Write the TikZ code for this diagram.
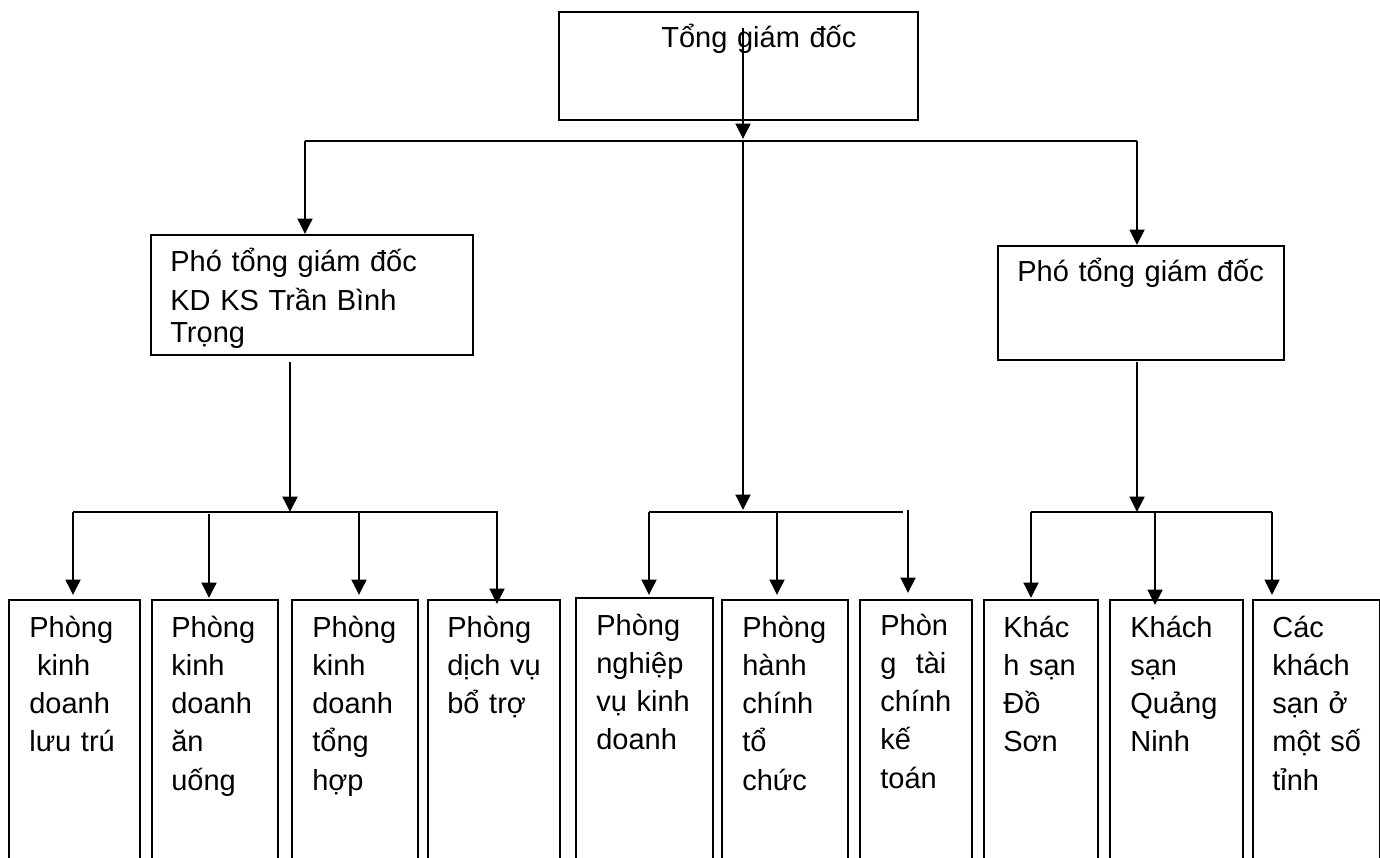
\documentclass[tikz,border=0pt]{standalone}
\usepackage{fontspec}
\setmainfont{Liberation Sans}
\usetikzlibrary{arrows.meta,calc}

\tikzset{
  box/.style={draw, line width=1.1pt, anchor=north west, inner sep=0pt},
  txt/.style={align=left, text width=8cm, anchor=base west, inner sep=0pt,
              font=\fontsize{16.5}{21.8}\selectfont},
  arr/.style={line width=1.1pt, -{Triangle[length=0.31cm,width=0.3cm]}},
  bar/.style={line width=1.1pt},
}

\begin{document}
\begin{tikzpicture}[x=0.02cm,y=-0.02cm]
    \useasboundingbox (0,0) rectangle (1380,858);

    % cac o chinh
    \node[box, minimum width=7.18cm, minimum height=2.16cm] (tgd) at (558,11) {};
    \node[box, minimum width=6.44cm, minimum height=2.4cm] (pho1) at (150,234) {};
    \node[box, minimum width=5.72cm, minimum height=2.28cm] (pho2) at (997,245) {};

    % cac phong ban
    \foreach \n/\x/\y/\w in {1/8/599/2.62, 2/151/599/2.52, 3/291/599/2.52, 4/427/599/2.64,
                             5/575/597/2.74, 6/721/599/2.52, 7/859/599/2.24,
                             8/983/599/2.28, 9/1109/599/2.66, 10/1252/599/2.54}
        \node[box, minimum width=\w cm, minimum height=6cm] (b\n) at (\x,\y) {};

    % chu
    \node[txt] (ttgd) at (661,48) {Tổng giám đốc};
    \node[txt] (tpho1) at (170,272) {Phó tổng giám đốc\\KD KS Trần Bình\\[-3.4pt]Trọng};
    \node[txt] (tpho2) at (1017,282) {Phó tổng giám đốc};
    \node[txt] (t1) at (29,637) {Phòng\\\hspace*{0.27em}kinh\\doanh\\lưu trú};
    \node[txt] (t2) at (171,637) {Phòng\\kinh\\doanh\\ăn\\uống};
    \node[txt] (t3) at (312,637) {Phòng\\kinh\\doanh\\tổng\\hợp};
    \node[txt] (t4) at (447,637) {Phòng\\dịch vụ\\bổ trợ};
    \node[txt] (t5) at (596,635) {Phòng\\nghiệp\\vụ kinh\\doanh};
    \node[txt] (t6) at (742,637) {Phòng\\hành\\chính\\tổ\\chức};
    \node[txt] (t7) at (880,635) {Phòn\\g\ \ tài\\chính\\kế\\toán};
    \node[txt] (t8) at (1003,637) {Khác\\h sạn\\Đồ\\Sơn};
    \node[txt] (t9) at (1130,637) {Khách\\sạn\\Quảng\\Ninh};
    \node[txt] (t10) at (1272,637) {Các\\khách\\sạn ở\\một số\\tỉnh};

    % tong giam doc xuong
    \coordinate (c0) at (743,28);
    \coordinate (hL) at (305,141);
    \coordinate (hR) at (1137,141);
    \draw[bar] (hL) -- (hR);
    \draw[arr] (c0) -- ($(c0 |- hL)+(0,-2)$);
    \draw[arr] (hL) -- (hL |- pho1.north);
    \draw[arr] (hR) -- (hR |- pho2.north);

    % nhanh trai
    \coordinate (lL) at (73,512);
    \coordinate (lR) at (498,512);
    \coordinate (p1) at (290,362);
    \draw[bar] (lL) -- (lR);
    \draw[arr] (p1) -- (p1 |- lL);

    % nhanh giua
    \coordinate (mL) at (649,512);
    \coordinate (mR) at (903,512);
    \draw[bar] (mL) -- (mR);
    \draw[arr] (c0 |- hL) -- ($(c0 |- mL)+(0,-2)$);

    % nhanh phai
    \coordinate (rL) at (1031,512);
    \coordinate (rR) at (1272,512);
    \coordinate (p2) at (1137,362);
    \draw[bar] (rL) -- (rR);
    \draw[arr] (p2) -- (p2 |- rL);

    % mui ten xuong cac phong
    \foreach \x/\y/\b/\d in {73/512/b1/-4, 209/514/b2/-1, 359/512/b3/-4, 497/512/b4/5,
                             649/512/b5/-2, 777/512/b6/-4, 908/510/b7/-6,
                             1031/512/b8/-1, 1155/512/b9/6, 1272/512/b10/-4}
    {
        \coordinate (s) at (\x,\y);
        \draw[arr] (s) -- ($(s |- \b.north)+(0,\d)$);
    }
\end{tikzpicture}
\end{document}
